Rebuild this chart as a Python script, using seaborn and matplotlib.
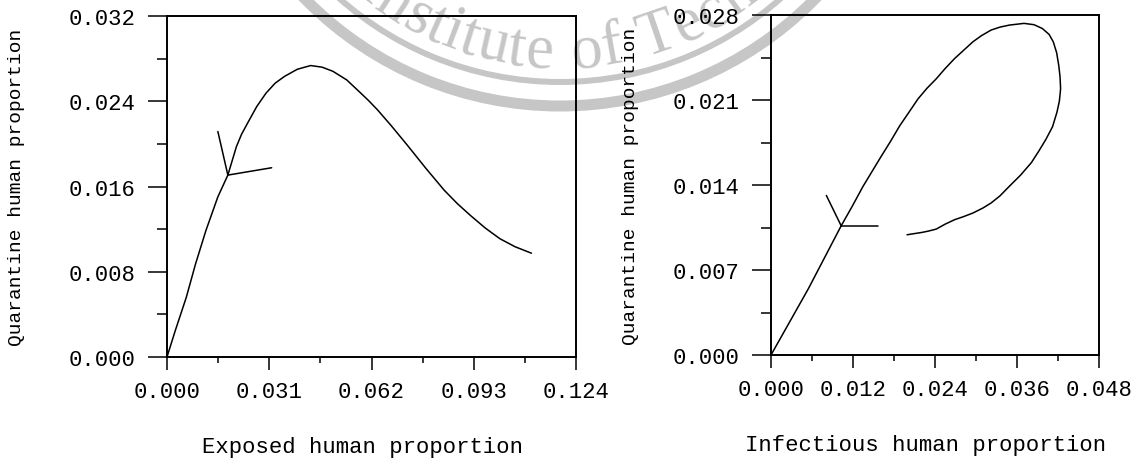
import numpy as np
import pandas as pd
import matplotlib
matplotlib.use("Agg")
import matplotlib.pyplot as plt
import seaborn as sns
from matplotlib.patches import Arc
from matplotlib.textpath import TextToPath
from matplotlib.font_manager import FontProperties

# ---------------- data ----------------
# Left panel: exposed vs quarantine
exp_main_x = [0.0, 0.00248, 0.00585, 0.00866, 0.01181, 0.01542, 0.01845,
              0.02104, 0.02260, 0.02442, 0.02720, 0.03004, 0.03280, 0.03567,
              0.03950, 0.04355, 0.04700, 0.05030, 0.05450, 0.05817, 0.06100,
              0.06380, 0.06800, 0.07280, 0.07850, 0.08405, 0.08800, 0.09193,
              0.09650, 0.10093, 0.10550, 0.11050]
exp_main_q = [0.0, 0.00245, 0.00560, 0.00874, 0.01188, 0.01503, 0.01707,
              0.01974, 0.02090, 0.02194, 0.02350, 0.02477, 0.02570, 0.02634,
              0.02700, 0.02735, 0.02720, 0.02681, 0.02600, 0.02493, 0.02410,
              0.02320, 0.02170, 0.01990, 0.01770, 0.01565, 0.01440, 0.01330,
              0.01210, 0.01110, 0.01035, 0.00974]
exp_branch1_x = [0.01845, 0.01542]
exp_branch1_q = [0.01707, 0.02116]
exp_branch2_x = [0.01845, 0.03173]
exp_branch2_q = [0.01707, 0.01776]

# Right panel: infectious vs quarantine
inf_main_x = [0.0, 0.00546, 0.01027, 0.01188, 0.01348, 0.01616, 0.01750,
              0.01884, 0.02020, 0.02151, 0.02280, 0.02419, 0.02550, 0.02686,
              0.02820, 0.02954, 0.03080, 0.03221, 0.03350, 0.03489, 0.03703,
              0.03850, 0.03970, 0.04070, 0.04131, 0.04180, 0.04211, 0.04230,
              0.04238, 0.04220, 0.04184, 0.04120, 0.04024, 0.03920, 0.03810,
              0.03650, 0.03489, 0.03350, 0.03221, 0.03100, 0.02954, 0.02820,
              0.02686, 0.02550, 0.02419, 0.02300, 0.02205, 0.02100, 0.01991]
inf_main_q = [0.0, 0.00545, 0.01064, 0.01224, 0.01390, 0.01639, 0.01760,
              0.01888, 0.02000, 0.02109, 0.02195, 0.02275, 0.02360, 0.02441,
              0.02510, 0.02579, 0.02630, 0.02676, 0.02700, 0.02717, 0.02731,
              0.02720, 0.02689, 0.02640, 0.02579, 0.02490, 0.02385, 0.02290,
              0.02192, 0.02090, 0.01998, 0.01880, 0.01777, 0.01680, 0.01584,
              0.01480, 0.01390, 0.01310, 0.01252, 0.01210, 0.01169, 0.01140,
              0.01114, 0.01078, 0.01037, 0.01020, 0.01009, 0.01000, 0.00990]
inf_branch1_x = [0.01027, 0.00810]
inf_branch1_q = [0.01064, 0.01314]
inf_branch2_x = [0.01027, 0.01560]
inf_branch2_q = [0.01064, 0.01064]

left_xticks = [0.000, 0.031, 0.062, 0.093, 0.124]
left_yticks = [0.000, 0.008, 0.016, 0.024, 0.032]
right_xticks = [0.000, 0.012, 0.024, 0.036, 0.048]
right_yticks = [0.000, 0.007, 0.014, 0.021, 0.028]

left_xlabel = "Exposed human proportion"
right_xlabel = "Infectious human proportion"
ylabel_text = "Quarantine human proportion"
watermark_text = "Institute of Technology"

# ---------------- style ----------------
sns.set_theme(style="white")
plt.rcParams['font.family'] = ['Liberation Mono', 'DejaVu Sans Mono']

W, H = 1144, 464
fig = plt.figure(figsize=(W / 100, H / 100), dpi=100)
fig.patch.set_facecolor("white")

# background overlay for the watermark (pixel coordinates, y down)
bg = fig.add_axes([0, 0, 1, 1], zorder=0)
bg.set_xlim(0, W)
bg.set_ylim(H, 0)
bg.axis("off")

wm_color = "#c6c6c6"
cx, cy = 560, -250
r_outer, r_inner, r_text = 357, 333, 318
px2pt = 72 / 100
bg.add_patch(Arc((cx, cy), 2 * r_outer, 2 * r_outer, color=wm_color,
                 lw=11 * px2pt))
bg.add_patch(Arc((cx, cy), 2 * r_inner, 2 * r_inner, color=wm_color,
                 lw=6 * px2pt))

fs_wm = 45
fp = FontProperties(family="Liberation Serif", size=fs_wm)
t2p = TextToPath()
widths = []
for ch in watermark_text:
    if ch == " ":
        widths.append(0.3 * fs_wm / px2pt)
    else:
        w, h, d = t2p.get_text_width_height_descent(ch, fp, ismath=False)
        widths.append(w / px2pt * 1.05)
cum = np.concatenate([[0], np.cumsum(widths)])
centers = (cum[:-1] + cum[1:]) / 2
gap_idx = watermark_text.index(" ")
s_gap = centers[gap_idx]
phi_gap = np.arcsin((562 - cx) / r_text)
for ch, s in zip(watermark_text, centers):
    if ch == " ":
        continue
    phi = phi_gap + (s - s_gap) / r_text
    x = cx + r_text * np.sin(phi)
    y = cy + r_text * np.cos(phi)
    bg.text(x, y, ch, fontsize=fs_wm, family="Liberation Serif",
            color=wm_color, rotation=np.degrees(phi), rotation_mode="anchor",
            ha="center", va="baseline")

ax1 = fig.add_axes([167 / W, (H - 358) / H, 409 / W, 341 / H], zorder=1)
ax2 = fig.add_axes([771 / W, (H - 356) / H, 328 / W, 340 / H], zorder=1)

line_kw = dict(color="black", linewidth=1.1, sort=False, estimator=None)

sns.lineplot(x=exp_main_x, y=exp_main_q, ax=ax1, **line_kw)
sns.lineplot(x=exp_branch1_x, y=exp_branch1_q, ax=ax1, **line_kw)
sns.lineplot(x=exp_branch2_x, y=exp_branch2_q, ax=ax1, **line_kw)

sns.lineplot(x=inf_main_x, y=inf_main_q, ax=ax2, **line_kw)
sns.lineplot(x=inf_branch1_x, y=inf_branch1_q, ax=ax2, **line_kw)
sns.lineplot(x=inf_branch2_x, y=inf_branch2_q, ax=ax2, **line_kw)


def style_axis(ax, xt, yt, xlabel, xlab_x, ylab_x):
    ax.patch.set_alpha(0)
    ax.set_xlim(xt[0], xt[-1])
    ax.set_ylim(yt[0], yt[-1])
    ax.set_xticks(xt)
    ax.set_yticks(yt)
    ax.set_xticklabels([f"{v:.3f}" for v in xt])
    ax.set_yticklabels([f"{v:.3f}" for v in yt])
    xm = [(a + b) / 2 for a, b in zip(xt[:-1], xt[1:])]
    ym = [(a + b) / 2 for a, b in zip(yt[:-1], yt[1:])]
    ax.set_xticks(xm, minor=True)
    ax.set_yticks(ym, minor=True)
    ax.tick_params(axis="x", which="major", direction="out", length=9.5,
                   width=1.1, pad=8, labelsize=16, bottom=True, top=False,
                   colors="black")
    ax.tick_params(axis="x", which="minor", direction="out", length=4.5,
                   width=1.1, bottom=True, top=False, colors="black")
    ax.tick_params(axis="y", which="major", direction="out", length=13.5,
                   width=1.1, pad=9, labelsize=16, left=True, right=False,
                   colors="black")
    ax.tick_params(axis="y", which="minor", direction="out", length=7.5,
                   width=1.1, left=True, right=False, colors="black")
    for sp in ax.spines.values():
        sp.set_visible(True)
        sp.set_color("black")
        sp.set_linewidth(1.4)
    ax.set_xlabel(xlabel, fontsize=16, color="black", va="top")
    ax.set_ylabel(ylabel_text, fontsize=14, color="black")
    ax.xaxis.set_label_coords(xlab_x, -0.232)
    ax.yaxis.set_label_coords(ylab_x, 0.5)
    ax.grid(False)


style_axis(ax1, left_xticks, left_yticks, left_xlabel, 0.477, -0.347)
style_axis(ax2, right_xticks, right_yticks, right_xlabel, 0.47, -0.402)

fig.savefig("out.png", dpi=100, facecolor="white")
